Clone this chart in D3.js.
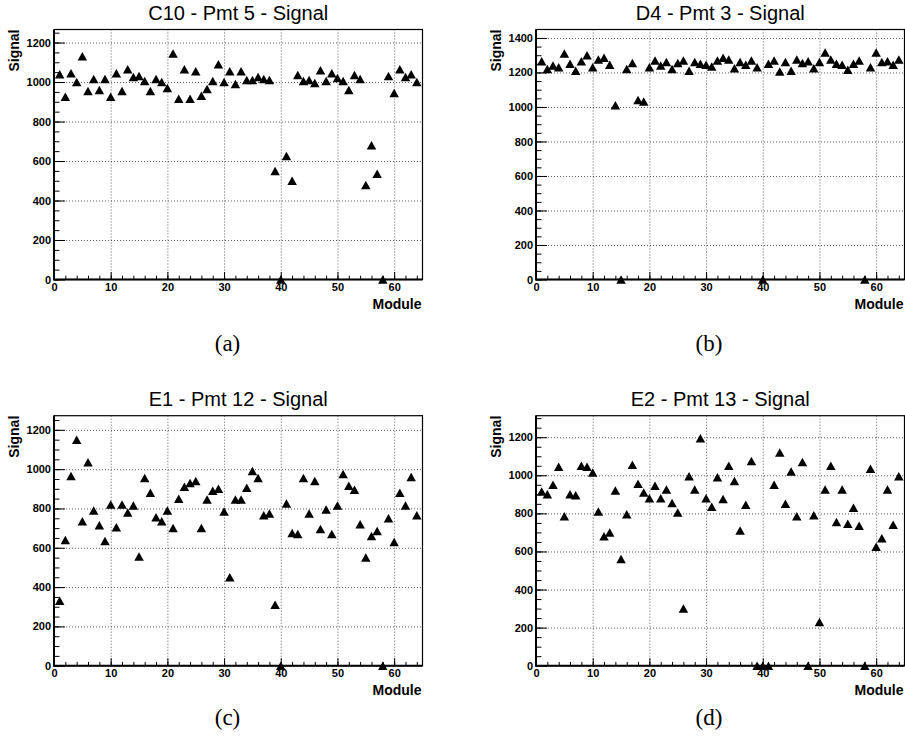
<!DOCTYPE html>
<html>
<head>
<meta charset="utf-8">
<script src="https://cdn.jsdelivr.net/npm/d3@7"></script>
<style>
body { margin: 0; background: #fff; }
svg text { font-family: "Liberation Sans", Arial, sans-serif; fill: #000; }
.title { font-size: 20px; }
.tick text { font-size: 11px; font-weight: bold; }
.axisLabel { font-size: 14px; font-weight: bold; }
.caption { font-family: "Liberation Serif", "DejaVu Serif", serif; font-size: 23px; }
.grid line { stroke: #333; stroke-width: 0.8px; stroke-dasharray: 1,2; }
.grid .domain { display: none; }
</style>
</head>
<body>
<svg id="chart" width="905" height="747"></svg>
<script>
var modules = [1, 2, 3, 4, 5, 6, 7, 8, 9, 10, 11, 12, 13, 14, 15, 16,
    17, 18, 19, 20, 21, 22, 23, 24, 25, 26, 27, 28, 29, 30, 31, 32,
    33, 34, 35, 36, 37, 38, 39, 40, 41, 42, 43, 44, 45, 46, 47, 48,
    49, 50, 51, 52, 53, 54, 55, 56, 57, 58, 59, 60, 61, 62, 63, 64]

var signalC10 = [1040, 925, 1045, 1000, 1130, 955, 1015, 960, 1015, 925, 1045, 955, 1065, 1025, 1030, 1005,
    955, 1015, 1000, 970, 1145, 915, 1065, 915, 1055, 930, 965, 1005, 1090, 1000, 1055, 990,
    1055, 1010, 1010, 1025, 1015, 1010, 550, 0, 625, 500, 1035, 1005, 1010, 995, 1060, 1005,
    1045, 1020, 1005, 960, 1035, 1015, 478, 680, 535, 0, 1030, 945, 1065, 1025, 1040, 1000]

var signalD4 = [1265, 1220, 1240, 1230, 1310, 1250, 1210, 1265, 1300, 1230, 1275, 1285, 1245, 1010, 0, 1220,
    1255, 1040, 1032, 1230, 1270, 1240, 1260, 1220, 1255, 1270, 1210, 1260, 1250, 1245, 1235, 1270,
    1285, 1275, 1225, 1260, 1245, 1270, 1230, 0, 1250, 1270, 1205, 1260, 1210, 1275, 1255, 1265,
    1225, 1260, 1315, 1275, 1250, 1245, 1215, 1250, 1270, 0, 1230, 1315, 1260, 1265, 1245, 1275]

var signalE1 = [330, 640, 965, 1150, 735, 1035, 790, 715, 635, 820, 705, 820, 780, 815, 555, 955,
    880, 755, 735, 790, 700, 850, 910, 930, 940, 700, 845, 890, 900, 785, 450, 845,
    845, 905, 990, 955, 765, 775, 310, 0, 825, 675, 670, 955, 775, 940, 695, 795,
    670, 815, 975, 915, 895, 720, 550, 660, 685, 0, 750, 630, 880, 815, 960, 765]

var signalE2 = [915, 900, 950, 1045, 785, 900, 895, 1050, 1045, 1015, 810, 680, 700, 920, 560, 795,
    1055, 955, 910, 880, 945, 880, 925, 855, 805, 300, 995, 925, 1195, 880, 835, 990,
    875, 1050, 970, 710, 845, 1075, 0, 0, 0, 950, 1120, 850, 1020, 785, 1070, 0,
    790, 230, 925, 1050, 755, 925, 745, 830, 735, 0, 1035, 625, 670, 925, 740, 995]

var titles = ["C10 - Pmt 5 - Signal", "D4 - Pmt 3 - Signal", "E1 - Pmt 12 - Signal", "E2 - Pmt 13 - Signal"]
var captions = ["(a)", "(b)", "(c)", "(d)"]
var series = [signalC10, signalD4, signalE1, signalE2]
var yMaxes = [1266, 1449, 1272, 1313]
var xTicks = [0, 10, 20, 30, 40, 50, 60]
var yTicks = [
    [0, 200, 400, 600, 800, 1000, 1200],
    [0, 200, 400, 600, 800, 1000, 1200, 1400],
    [0, 200, 400, 600, 800, 1000, 1200],
    [0, 200, 400, 600, 800, 1000, 1200]
]

// frame positions of the four pads
var layout = [
    { left: 54, top: 29.5, capX: 227.5, capY: 351 },
    { left: 536, top: 29.5, capX: 709, capY: 351 },
    { left: 54, top: 415.7, capX: 227.5, capY: 725 },
    { left: 536, top: 415.7, capX: 709, capY: 725 }
]
var width = 368.5
var height = 250

var svg = d3.select("#chart")
svg.append("rect").attr("width", 905).attr("height", 747).attr("fill", "#fff")

function triangle(w, h) {
    return "M0," + (-h / 2) + "L" + (w / 2) + "," + (h / 2) + "L" + (-w / 2) + "," + (h / 2) + "Z"
}

layout.forEach(function (pos, i) {
    var xScale = d3.scaleLinear().domain([0, 65]).range([0, width])
    var yScale = d3.scaleLinear().domain([0, yMaxes[i]]).range([height, 0])

    var g = svg.append("g")
        .attr("transform", "translate(" + pos.left + "," + pos.top + ")")

    // dotted grid
    g.append("g")
        .attr("class", "grid")
        .attr("transform", "translate(0," + height + ")")
        .call(d3.axisTop(xScale).tickSize(height).tickFormat("")
            .tickValues(xTicks.filter(function (t) { return t > 0 })))
    g.append("g")
        .attr("class", "grid")
        .call(d3.axisRight(yScale).tickSize(width).tickFormat("")
            .tickValues(yTicks[i].filter(function (t) { return t > 0 })))

    // minor ticks
    g.append("g")
        .call(d3.axisLeft(yScale).tickValues(d3.range(0, yMaxes[i], 50))
            .tickSize(-5.5).tickSizeOuter(0).tickFormat(""))
        .call(function (a) { a.select(".domain").remove() })
    g.append("g")
        .attr("transform", "translate(0," + height + ")")
        .call(d3.axisBottom(xScale).tickValues(d3.range(0, 65, 2))
            .tickSize(-3.8).tickSizeOuter(0).tickFormat(""))
        .call(function (a) { a.select(".domain").remove() })

    // major ticks with labels
    var yAxis = g.append("g")
        .call(d3.axisLeft(yScale).tickValues(yTicks[i]).tickFormat(d3.format("d"))
            .tickSize(-11).tickSizeOuter(0).tickPadding(3))
    yAxis.select(".domain").remove()
    var xAxis = g.append("g")
        .attr("transform", "translate(0," + height + ")")
        .call(d3.axisBottom(xScale).tickValues(xTicks).tickFormat(d3.format("d"))
            .tickSize(-7.5).tickSizeOuter(0).tickPadding(4))
    xAxis.select(".domain").remove()
    g.selectAll(".tick line").attr("stroke", "#000")

    // frame
    g.append("rect")
        .attr("width", width)
        .attr("height", height)
        .attr("fill", "none")
        .attr("stroke", "#000")
        .attr("stroke-width", 1.2)
    g.append("path")
        .attr("d", "M0,0V" + height + "H" + width)
        .attr("fill", "none")
        .attr("stroke", "#000")
        .attr("stroke-width", 2)

    // markers
    g.selectAll(".marker")
        .data(series[i])
        .enter()
        .append("path")
        .attr("class", "marker")
        .attr("d", triangle(9.5, 8.5))
        .attr("transform", function (d, j) {
            return "translate(" + xScale(modules[j]) + "," + yScale(d) + ")"
        })
        .attr("fill", "#000")

    g.append("text")
        .attr("class", "title")
        .attr("x", width / 2)
        .attr("y", -9.5)
        .style("text-anchor", "middle")
        .text(titles[i])

    g.append("text")
        .attr("class", "axisLabel")
        .attr("transform", "translate(-35,0) rotate(-90)")
        .style("text-anchor", "end")
        .text("Signal")

    g.append("text")
        .attr("class", "axisLabel")
        .attr("x", width - 1)
        .attr("y", height + 29.5)
        .style("text-anchor", "end")
        .text("Module")

    svg.append("text")
        .attr("class", "caption")
        .attr("x", pos.capX)
        .attr("y", pos.capY)
        .style("text-anchor", "middle")
        .text(captions[i])
})
</script>
</body>
</html>
